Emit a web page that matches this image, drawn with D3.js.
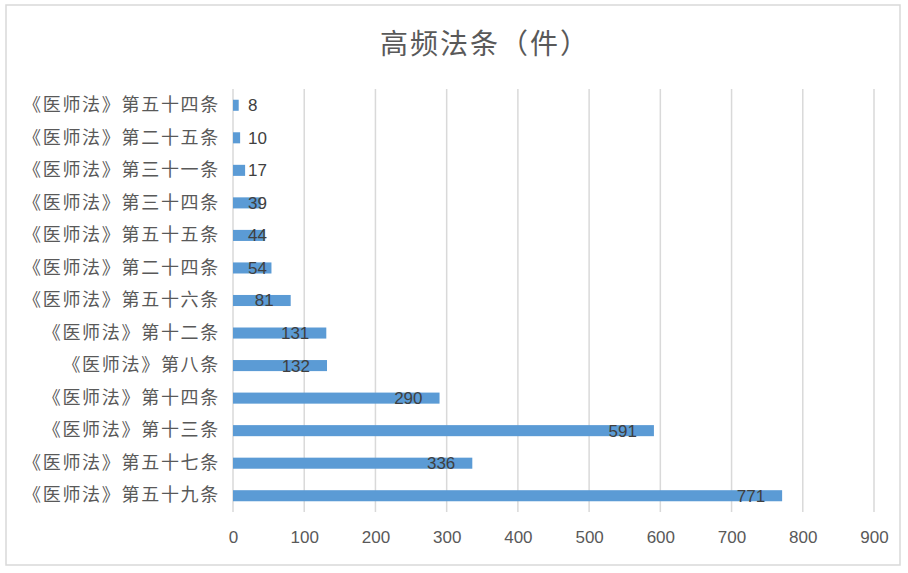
<!DOCTYPE html>
<html>
<head>
<meta charset="utf-8">
<script src="https://cdn.jsdelivr.net/npm/d3@7"></script>
<style>
  body { margin: 0; background: #fff; }
  svg { display: block; }
</style>
</head>
<body>
<div id="chart"></div>
<script>
// data, top to bottom as in the picture
var articles = [
  "《医师法》第五十四条", "《医师法》第二十五条", "《医师法》第三十一条",
  "《医师法》第三十四条", "《医师法》第五十五条", "《医师法》第二十四条",
  "《医师法》第五十六条", "《医师法》第十二条", "《医师法》第八条",
  "《医师法》第十四条", "《医师法》第十三条", "《医师法》第五十七条",
  "《医师法》第五十九条"
];
var counts = [8, 10, 17, 39, 44, 54, 81, 131, 132, 290, 591, 336, 771];
var xTicks = [0, 100, 200, 300, 400, 500, 600, 700, 800, 900];

var rows = articles.map(function(a, i) { return { name: a, value: counts[i] }; });

var width = 908, height = 573;
var margin = { top: 89, right: 34, bottom: 61, left: 233 };
var cjk = "'Noto Sans CJK SC', 'Noto Sans', sans-serif";
var num = "'Liberation Sans', Arial, sans-serif";

var svg = d3.select("#chart").append("svg").attr("width", width).attr("height", height);

svg.append("rect")
  .attr("x", 6).attr("y", 5).attr("width", 894).attr("height", 560)
  .attr("fill", "#fff").attr("stroke", "#d9d9d9").attr("stroke-width", 1.5);

svg.append("text")
  .attr("x", 485).attr("y", 42)
  .attr("text-anchor", "middle").attr("dominant-baseline", "central")
  .style("font-family", cjk).style("font-size", "28px").style("fill", "#595959")
  .style("letter-spacing", "2px")
  .text("高频法条（件）");

var x = d3.scaleLinear().domain([0, 900]).range([margin.left, width - margin.right]);
var y = d3.scaleBand().domain(articles).range([margin.top, height - margin.bottom]).paddingInner(0.66).paddingOuter(0.33);

// grid
svg.append("g").selectAll("line")
  .data(xTicks)
  .enter().append("line")
  .attr("x1", d => x(d)).attr("x2", d => x(d))
  .attr("y1", margin.top).attr("y2", height - margin.bottom)
  .attr("stroke", "#d9d9d9").attr("stroke-width", 1.5);

// x tick labels
var xAxis = d3.axisBottom(x).tickValues(xTicks).tickSize(0).tickPadding(0);
var gx = svg.append("g").attr("transform", "translate(0," + (height - margin.bottom) + ")").call(xAxis);
gx.select(".domain").remove();
gx.selectAll("text")
  .attr("y", 25).attr("dy", "0.35em")
  .style("font-family", num).style("font-size", "17px").style("fill", "#595959");

// category labels
var yAxis = d3.axisLeft(y).tickSize(0).tickPadding(13);
var gy = svg.append("g").attr("transform", "translate(" + margin.left + ",0)").call(yAxis);
gy.select(".domain").remove();
gy.selectAll("text")
  .style("font-family", cjk).style("font-size", "18px").style("fill", "#595959")
  .style("letter-spacing", "1.7px");

// bars
svg.append("g").selectAll("rect")
  .data(rows)
  .enter().append("rect")
  .attr("x", x(0))
  .attr("y", d => y(d.name))
  .attr("width", d => x(d.value) - x(0))
  .attr("height", y.bandwidth())
  .attr("fill", "#5b9bd5");

// value labels
var labels = svg.append("g").selectAll("text")
  .data(rows)
  .enter().append("text")
  .attr("y", d => y(d.name) + y.bandwidth() / 2)
  .attr("dy", "0.35em")
  .style("font-family", num).style("font-size", "17px").style("fill", "#404040")
  .text(d => d.value);

labels.attr("x", function(d) {
  var w = this.getComputedTextLength();
  return Math.max(x(d.value) - 17 - w, x(0) + 15);
});
</script>
</body>
</html>
